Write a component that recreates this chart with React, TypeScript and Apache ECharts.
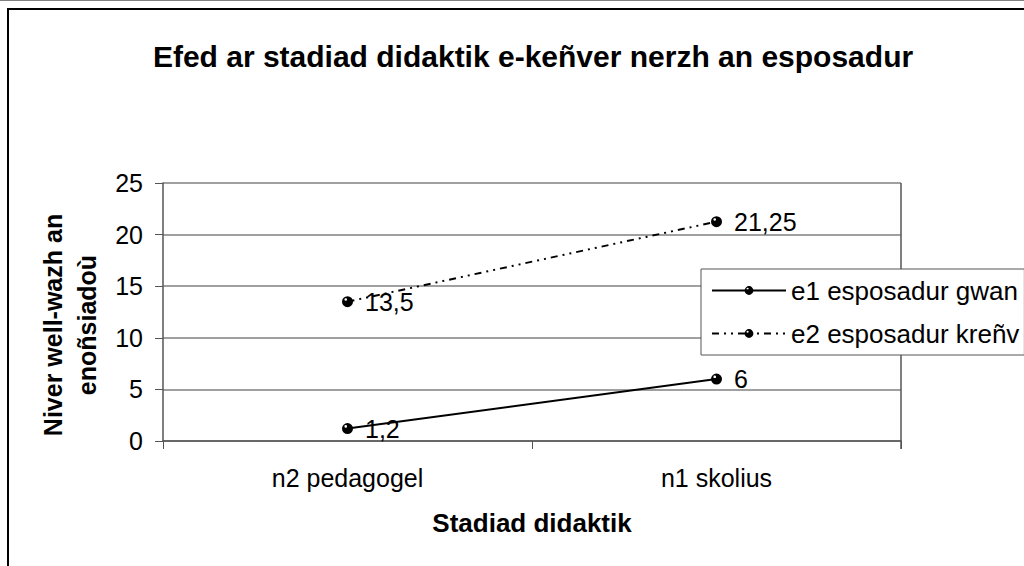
import React, { useEffect, useRef } from "react";
import * as echarts from "echarts";

const categories = ["n2 pedagogel", "n1 skolius"];
const e1Values = [1.2, 6];
const e2Values = [13.5, 21.25];
const seriesNames = ["e1 esposadur gwan", "e2 esposadur kreñv"];
const titleText = "Efed ar stadiad didaktik e-keñver nerzh an esposadur";
const xAxisName = "Stadiad didaktik";
const yAxisName = "Niver well-wazh an\nenoñsiadoù";
const yMin = 0;
const yMax = 25;
const yInterval = 5;

const FONT = "'Liberation Sans', Arial, sans-serif";

const MARKER =
  "path://M0,-5A5,5 0 1,1 0,5A5,5 0 1,1 0,-5Z" +
  "M-1.6,-3.2A1.2,1.2 0 1,0 -1.6,-0.8A1.2,1.2 0 1,0 -1.6,-3.2Z";

const commaFmt = (p: any) => String(p.value).replace(".", ",");

export default function App() {
  const ref = useRef<HTMLDivElement>(null);
  useEffect(() => {
    if (!ref.current) return;
    const chart = echarts.init(ref.current, null, { renderer: "svg" });
    const labelStyle = {
      show: true,
      position: "right" as const,
      distance: 12,
      color: "#000",
      fontSize: 25,
      fontFamily: FONT,
      formatter: commaFmt,
    };
    chart.setOption({
      animation: false,
      backgroundColor: "#fff",
      textStyle: { fontFamily: FONT },
      title: {
        text: titleText,
        left: 528,
        top: 36,
        textAlign: "center",
        textStyle: { fontSize: 30, fontWeight: "bold", color: "#000", fontFamily: FONT },
      },
      graphic: [
        {
          type: "line",
          shape: { x1: 0, y1: 0.5, x2: 1024, y2: 0.5 },
          style: { stroke: "#808080", lineWidth: 1 },
          silent: true,
        },
        {
          type: "rect",
          shape: { x: 8, y: 9, width: 1200, height: 700 },
          style: { fill: "none", stroke: "#000", lineWidth: 2 },
          silent: true,
          z: -1,
        },
        {
          type: "line",
          shape: { x1: 901, y1: 183, x2: 901, y2: 449 },
          style: { stroke: "#555", lineWidth: 1.5 },
          silent: true,
          z: 1,
        },
      ],
      legend: {
        orient: "vertical",
        left: 701,
        top: 269,
        padding: [8, 5, 8, 10],
        itemGap: 16,
        itemWidth: 74,
        itemHeight: 11,
        backgroundColor: "#fff",
        borderColor: "#555",
        borderWidth: 1,
        borderRadius: 0,
        textStyle: { fontSize: 26, color: "#000", fontFamily: FONT, lineHeight: 27 },
        data: seriesNames,
        z: 10,
      },
      grid: { left: 163, top: 183, right: 123, bottom: 125, containLabel: false },
      xAxis: {
        type: "category",
        data: categories,
        boundaryGap: true,
        name: xAxisName,
        nameLocation: "middle",
        nameGap: 69,
        nameTextStyle: { fontSize: 26, fontWeight: "bold", color: "#000", fontFamily: FONT },
        axisLine: { show: true, lineStyle: { color: "#555", width: 1.5 } },
        axisTick: { show: true, length: 8, alignWithLabel: false, lineStyle: { color: "#555" } },
        axisLabel: { fontSize: 25, color: "#000", margin: 24, fontFamily: FONT },
        splitLine: { show: false },
      },
      yAxis: {
        type: "value",
        min: yMin,
        max: yMax,
        interval: yInterval,
        name: yAxisName,
        nameLocation: "middle",
        nameRotate: 90,
        nameGap: 54,
        nameTextStyle: {
          fontSize: 25,
          fontWeight: "bold",
          color: "#000",
          fontFamily: FONT,
          lineHeight: 34,
          padding: [0, 26, 0, 0],
        },
        axisLine: { show: true, lineStyle: { color: "#555", width: 1.5 } },
        axisTick: { show: true, length: 8, lineStyle: { color: "#555" } },
        axisLabel: { fontSize: 25, color: "#000", margin: 20, fontFamily: FONT },
        splitLine: { show: true, lineStyle: { color: "#808080", width: 1.5 } },
      },
      series: [
        {
          name: seriesNames[0],
          type: "line",
          data: e1Values,
          symbol: MARKER,
          symbolSize: 11,
          itemStyle: { color: "#000" },
          lineStyle: { color: "#000", width: 2, type: "solid" },
          label: labelStyle,
          z: 5,
        },
        {
          name: seriesNames[1],
          type: "line",
          data: e2Values,
          symbol: MARKER,
          symbolSize: 11,
          itemStyle: { color: "#000" },
          lineStyle: { color: "#000", width: 2, type: [7, 5, 2, 5, 2, 5] },
          label: labelStyle,
          z: 5,
        },
      ],
    });
    return () => chart.dispose();
  }, []);
  return (
    <div
      ref={ref}
      style={{ position: "absolute", left: 0, top: 0, width: 1024, height: 566 }}
    />
  );
}
